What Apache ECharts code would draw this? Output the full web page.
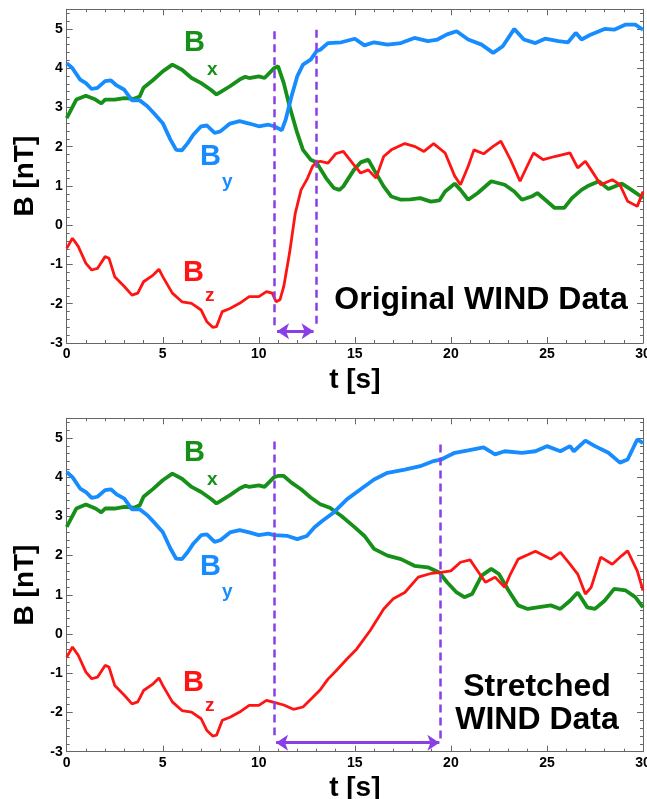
<!DOCTYPE html>
<html>
<head>
<meta charset="utf-8">
<script src="https://cdn.jsdelivr.net/npm/echarts@6/dist/echarts.min.js"></script>
<style>
  html, body { margin: 0; padding: 0; background: #fff; }
  #MyChart { width: 647px; height: 799px; }
</style>
</head>
<body>
<div id="MyChart"></div>
<script>
// [t (s), B (nT)]
// 0 - 10.8 s is the same in both panels
let bxEarly = [[0,2.73],[0.5,3.2],[1,3.3],[1.5,3.2],[1.8,3.1],[2,3.2],[2.5,3.2],[3,3.24],[3.5,3.22],[3.8,3.28],[4,3.5],[4.5,3.7],[5,3.92],[5.5,4.09],[6,3.96],[6.5,3.75],[7,3.62],[7.5,3.45],[7.8,3.33],[8,3.39],[8.5,3.54],[9,3.71],[9.3,3.78],[9.5,3.75],[10,3.79],[10.3,3.75],[10.8,4.0]]
let byEarly = [[0,4.13],[0.3,4.0],[0.7,3.71],[1,3.62],[1.3,3.47],[1.6,3.5],[2,3.67],[2.3,3.69],[2.6,3.56],[3,3.45],[3.4,3.18],[3.8,3.18],[4.2,3.03],[4.6,2.82],[5,2.6],[5.4,2.18],[5.7,1.92],[6,1.91],[6.3,2.09],[6.6,2.31],[7,2.52],[7.3,2.54],[7.7,2.35],[8,2.39],[8.5,2.59],[9,2.65],[9.5,2.59],[10,2.52],[10.5,2.56],[10.8,2.52]]
let bzEarly = [[0,-0.59],[0.3,-0.33],[0.6,-0.54],[1,-0.97],[1.3,-1.14],[1.6,-1.1],[2,-0.8],[2.2,-0.84],[2.5,-1.31],[3,-1.56],[3.4,-1.78],[3.7,-1.73],[4,-1.44],[4.5,-1.27],[4.8,-1.12],[5,-1.31],[5.5,-1.73],[6,-1.95],[6.5,-1.99],[7,-2.16],[7.3,-2.46],[7.6,-2.6],[7.8,-2.58],[8.1,-2.2],[8.5,-2.12],[9,-1.99],[9.5,-1.82],[10,-1.82],[10.4,-1.69],[10.7,-1.73]]

// original data after 10.8 s
let bxOrig = [[11,4.05],[11.3,3.62],[11.6,3.03],[12,2.35],[12.3,1.92],[12.7,1.67],[13,1.6],[13.5,1.2],[13.9,0.95],[14.2,0.9],[14.4,0.99],[14.95,1.41],[15.3,1.6],[15.7,1.67],[16,1.41],[16.5,0.99],[16.9,0.73],[17.4,0.65],[17.9,0.66],[18.4,0.69],[18.96,0.6],[19.4,0.63],[19.7,0.86],[20.2,1.06],[20.5,0.9],[20.9,0.65],[21.4,0.82],[22.1,1.12],[22.8,1.03],[23.3,0.86],[23.7,0.65],[24.2,0.73],[24.5,0.82],[25,0.61],[25.4,0.44],[25.9,0.44],[26.3,0.69],[26.8,0.9],[27.1,0.99],[27.7,1.12],[28.2,0.92],[28.9,1.06],[29.4,0.9],[29.9,0.73],[30,0.68]]
let byOrig = [[10.9,2.48],[11.2,2.42],[11.4,2.69],[11.7,3.28],[12,3.79],[12.3,4.09],[12.7,4.22],[13,4.43],[13.2,4.47],[13.6,4.64],[14.3,4.66],[15,4.75],[15.5,4.58],[16,4.66],[16.7,4.6],[17.4,4.64],[18.1,4.77],[18.8,4.69],[19.3,4.73],[19.8,4.86],[20.3,4.94],[20.9,4.73],[21.6,4.6],[22.2,4.39],[22.7,4.56],[23.3,5.0],[23.8,4.73],[24.4,4.64],[24.9,4.75],[25.6,4.69],[26.1,4.66],[26.5,4.9],[26.8,4.73],[27.3,4.86],[28,5.0],[28.5,4.98],[29.1,5.11],[29.6,5.11],[30,4.98]]
let bzOrig = [[10.9,-1.95],[11.1,-1.9],[11.3,-1.56],[11.6,-0.71],[11.9,0.31],[12.2,0.9],[12.5,1.16],[12.8,1.5],[13,1.6],[13.2,1.63],[13.6,1.58],[14,1.82],[14.4,1.88],[14.95,1.54],[15.3,1.33],[15.7,1.41],[16.1,1.2],[16.5,1.75],[16.9,1.92],[17.6,2.08],[18.1,2.01],[18.6,1.88],[19.1,2.08],[19.7,1.84],[20.2,1.25],[20.5,1.03],[20.9,1.5],[21.2,1.92],[21.7,1.82],[22.2,2.01],[22.6,2.14],[23.1,1.67],[23.6,1.12],[23.8,1.33],[24.3,1.84],[24.8,1.67],[25.4,1.75],[26.2,1.84],[26.6,1.46],[27,1.63],[27.3,1.41],[27.8,1.03],[28.4,1.16],[28.8,1.03],[29.2,0.61],[29.7,0.48],[30,0.86]]

// stretched data after 10.8 s
let bxStretch = [[11,4.03],[11.3,4.03],[11.7,3.86],[12.2,3.69],[12.7,3.48],[13.2,3.31],[13.7,3.22],[14.3,3.01],[15,2.72],[15.5,2.5],[16,2.17],[16.7,2.0],[17.4,1.91],[18.1,1.74],[18.8,1.7],[19.4,1.57],[19.8,1.32],[20.3,1.06],[20.7,0.94],[21.1,1.02],[21.6,1.49],[22.1,1.66],[22.5,1.53],[23,1.11],[23.5,0.73],[24,0.64],[24.5,0.68],[25.2,0.73],[25.7,0.64],[26.2,0.85],[26.6,1.06],[27.1,0.68],[27.5,0.64],[28,0.85],[28.5,1.15],[29.1,1.11],[29.6,0.94],[30,0.68]]
let byStretch = [[11.5,2.5],[12,2.42],[12.5,2.5],[12.9,2.72],[13.3,2.88],[13.9,3.1],[14.6,3.44],[15.3,3.69],[16,3.94],[16.7,4.11],[17.6,4.19],[18.4,4.28],[19.1,4.41],[19.5,4.45],[19.7,4.5],[20.2,4.62],[20.9,4.68],[21.7,4.76],[22.3,4.58],[22.8,4.66],[23.7,4.62],[24.4,4.66],[25,4.79],[25.7,4.66],[26.2,4.79],[26.4,4.66],[27,4.93],[27.5,4.79],[28.2,4.62],[28.8,4.37],[29.2,4.45],[29.7,4.96],[30,4.87]]
let bzStretch = [[11.3,-1.81],[11.8,-1.92],[12.3,-1.86],[12.8,-1.62],[13.2,-1.42],[13.6,-1.15],[14,-0.95],[14.6,-0.63],[15.1,-0.38],[15.8,0.09],[16.5,0.64],[17,0.9],[17.6,1.06],[18.3,1.45],[19,1.55],[19.5,1.57],[20,1.61],[20.5,1.83],[21,1.89],[21.5,1.53],[21.8,1.32],[22.3,1.45],[22.8,1.19],[23.1,1.53],[23.5,1.91],[24,2.02],[24.4,2.11],[25.2,1.91],[25.7,2.08],[26.2,1.78],[26.6,1.53],[27,1.02],[27.3,1.19],[27.8,1.96],[28.4,1.78],[28.9,2.0],[29.2,2.12],[29.7,1.61],[30,1.11]]

// dashed markers: [t, top, bottom]
let dashTop = [[10.81, 4.94, -2.61], [12.97, 4.98, -2.58]]
let dashBottom = [[10.81, 4.91, -2.58], [19.47, 4.83, -2.7]]
// double arrows: [t from, t to, B]
let arrowTop = [10.95, 12.85, -2.7]
let arrowBottom = [10.9, 19.4, -2.77]

const GREEN = '#17901a'
const BLUE = '#168cff'
const RED = '#ff1414'
const PURPLE = '#8a3fe6'
const FONT = '"Liberation Sans", Arial, Helvetica, sans-serif'
const AXIS_C = '#666'

let myChart = echarts.init(document.getElementById('MyChart'))

function xAxisFor (grid, pos) {
  let main = pos === 'bottom'
  return {
    gridIndex: grid, type: 'value', position: pos, min: 0, max: 30, interval: 5,
    axisLine: { show: true, onZero: false, lineStyle: { color: AXIS_C, width: 1 } },
    axisTick: { show: true, inside: true, length: 6, lineStyle: { color: AXIS_C } },
    minorTick: { show: true, splitNumber: 5, length: 3, lineStyle: { color: AXIS_C } },
    splitLine: { show: false },
    axisLabel: { show: main, color: '#000', fontWeight: 'bold', fontSize: 14, fontFamily: FONT, margin: 4 },
    name: main ? 't [s]' : '',
    nameLocation: 'middle', nameGap: 23,
    nameTextStyle: { color: '#000', fontWeight: 'bold', fontSize: 28, fontFamily: FONT }
  }
}
function yAxisFor (grid, pos) {
  let main = pos === 'left'
  return {
    gridIndex: grid, type: 'value', position: pos, min: -3, max: 5.5, interval: 1,
    axisLine: { show: true, onZero: false, lineStyle: { color: AXIS_C, width: 1 } },
    axisTick: { show: true, inside: true, length: 6, lineStyle: { color: AXIS_C } },
    minorTick: { show: true, splitNumber: 5, length: 3, lineStyle: { color: AXIS_C } },
    splitLine: { show: false },
    axisLabel: { show: main, showMaxLabel: false, color: '#000', fontWeight: 'bold', fontSize: 14, fontFamily: FONT, margin: 4 },
    name: main ? 'B [nT]' : '',
    nameLocation: 'middle', nameRotate: 90, nameGap: 24,
    nameTextStyle: { color: '#000', fontWeight: 'bold', fontSize: 28, fontFamily: FONT }
  }
}
function curve (grid, data, color, width) {
  return {
    type: 'line', xAxisIndex: grid * 2, yAxisIndex: grid * 2, data: data,
    showSymbol: false, symbol: 'none', silent: true,
    lineStyle: { color: color, width: width }
  }
}
function markers (grid, dashes, arrow) {
  let lines = dashes.map(d => [
    { coord: [d[0], d[1]], symbol: 'none', lineStyle: { type: [8, 5], width: 2.5, color: PURPLE } },
    { coord: [d[0], d[2]], symbol: 'none' }
  ])
  lines.push([
    { coord: [arrow[0], arrow[2]], symbol: 'arrow', lineStyle: { type: 'solid', width: 3, color: PURPLE } },
    { coord: [arrow[1], arrow[2]], symbol: 'arrow' }
  ])
  return {
    type: 'line', xAxisIndex: grid * 2, yAxisIndex: grid * 2, data: [], silent: true, z: 5,
    markLine: {
      silent: true, animation: false, symbolSize: [12, 12],
      label: { show: false },
      data: lines
    }
  }
}
function txt (text, x, y, color, size, align) {
  return {
    type: 'text', z: 10, silent: true,
    style: { text: text, x: x, y: y, fill: color, align: align || 'left', verticalAlign: 'middle',
      font: 'bold ' + size + 'px ' + FONT }
  }
}
function labels (dy) {
  return [
    txt('B', 184, 43 + dy, GREEN, 29), txt('x', 207, 70 + dy, GREEN, 19),
    txt('B', 200, 157 + dy, BLUE, 29), txt('y', 222, 182 + dy, BLUE, 19),
    txt('B', 183, 273 + dy, RED, 29), txt('z', 205, 296 + dy, RED, 19)
  ]
}

let option = {
  animation: false,
  backgroundColor: '#fff',
  grid: [
    { left: 66.7, top: 9.3, width: 576.3, height: 333.7, outerBoundsMode: 'none', containLabel: false },
    { left: 66.7, top: 418.3, width: 576.3, height: 333.4, outerBoundsMode: 'none', containLabel: false }
  ],
  xAxis: [xAxisFor(0, 'bottom'), xAxisFor(0, 'top'), xAxisFor(1, 'bottom'), xAxisFor(1, 'top')],
  yAxis: [yAxisFor(0, 'left'), yAxisFor(0, 'right'), yAxisFor(1, 'left'), yAxisFor(1, 'right')],
  series: [
    curve(0, bxEarly.concat(bxOrig), GREEN, 3.8),
    curve(0, byEarly.concat(byOrig), BLUE, 3.8),
    curve(0, bzEarly.concat(bzOrig), RED, 2.8),
    markers(0, dashTop, arrowTop),
    curve(1, bxEarly.concat(bxStretch), GREEN, 3.8),
    curve(1, byEarly.concat(byStretch), BLUE, 3.8),
    curve(1, bzEarly.concat(bzStretch), RED, 2.8),
    markers(1, dashBottom, arrowBottom)
  ],
  graphic: labels(0).concat(labels(410)).concat([
    txt('Original WIND Data', 481, 300, '#000', 32, 'center'),
    txt('Stretched', 537, 687, '#000', 32, 'center'),
    txt('WIND Data', 537, 720, '#000', 32, 'center')
  ])
}
myChart.setOption(option)
</script>
</body>
</html>
